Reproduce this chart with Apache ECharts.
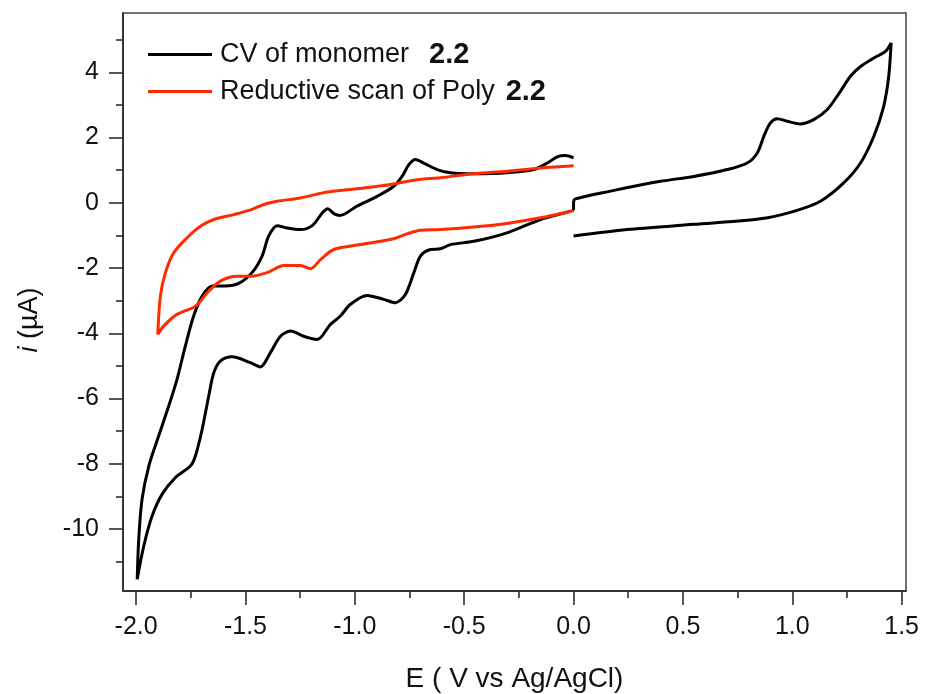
<!DOCTYPE html>
<html>
<head>
<meta charset="utf-8">
<script src="https://cdn.jsdelivr.net/npm/echarts@6/dist/echarts.min.js"></script>
<style>
  html, body { margin: 0; background: #fff; }
  #cv_chart { width: 926px; height: 694px; }
</style>
</head>
<body>
<!-- CV 曲线：单体 + 聚合物还原扫描 -->
<div id="cv_chart"></div>
<script>
// 单体 CV（黑线），按扫描顺序：0 → 1.45 → 0 → -2.0 → 0
var cvE = [0.0, 0.245, 0.55, 0.855, 1.007, 1.129, 1.235, 1.312, 1.373, 1.418, 1.441, 1.452,
  1.426, 1.373, 1.312, 1.266, 1.22, 1.16, 1.098, 1.037, 0.977, 0.931, 0.9, 0.87, 0.84, 0.794, 0.702, 0.55, 0.397, 0.169, 0.009, 0.0, 0.0,
  -0.045, -0.151, -0.304, -0.456, -0.563, -0.609, -0.654, -0.7, -0.73, -0.769, -0.814, -0.868, -0.944, -1.02, -1.066, -1.112, -1.172, -1.234, -1.294, -1.34, -1.386, -1.432, -1.477, -1.561, -1.615, -1.645, -1.668, -1.698, -1.729, -1.752, -1.82, -1.881, -1.927, -1.965, -1.995,
  -1.988, -1.973, -1.942, -1.897, -1.851, -1.813, -1.775, -1.737, -1.698, -1.652, -1.592, -1.531, -1.47, -1.424, -1.394, -1.355, -1.31, -1.249, -1.195, -1.149, -1.124, -1.096, -1.069, -0.99, -0.898, -0.822, -0.784, -0.753, -0.723, -0.685, -0.624, -0.563, -0.456, -0.304, -0.182, -0.12, -0.075, -0.037, 0.0]
var cvI = [-1.02, -0.82, -0.66, -0.49, -0.26, 0.05, 0.61, 1.22, 2.04, 2.96, 3.88, 4.9,
  4.64, 4.44, 4.18, 3.88, 3.42, 2.86, 2.55, 2.42, 2.5, 2.58, 2.45, 2.04, 1.53, 1.22, 1.02, 0.81, 0.66, 0.36, 0.12, 0.0, -0.2,
  -0.31, -0.51, -0.92, -1.18, -1.28, -1.41, -1.43, -1.63, -2.14, -2.81, -3.06, -2.96, -2.84, -3.11, -3.47, -3.73, -4.19, -4.09, -3.93, -4.09, -4.59, -5.03, -4.9, -4.72, -4.85, -5.21, -5.92, -6.94, -7.76, -8.07, -8.42, -8.93, -9.6, -10.52, -11.54,
  -10.31, -9.09, -8.07, -7.15, -6.23, -5.41, -4.39, -3.47, -2.86, -2.55, -2.55, -2.47, -2.14, -1.63, -1.02, -0.7, -0.77, -0.82, -0.7, -0.31, -0.18, -0.33, -0.39, -0.1, 0.2, 0.51, 0.81, 1.17, 1.33, 1.22, 1.02, 0.92, 0.89, 0.92, 1.02, 1.22, 1.41, 1.45, 1.38]

// 聚合物还原扫描（红线）
var polyE = [0.0, -0.151, -0.304, -0.456, -0.609, -0.715, -0.868, -1.02, -1.127, -1.249, -1.355, -1.417, -1.47, -1.554, -1.645, -1.706, -1.767, -1.828, -1.866, -1.889, -1.901,
  -1.874, -1.813, -1.729, -1.675, -1.615, -1.538, -1.477, -1.401, -1.325, -1.249, -1.203, -1.157, -1.096, -0.974, -0.822, -0.761, -0.7, -0.609, -0.456, -0.304, -0.151, -0.029, 0.0]
var polyI = [1.14, 1.07, 0.97, 0.89, 0.77, 0.71, 0.53, 0.41, 0.33, 0.15, 0.05, -0.05, -0.2, -0.36, -0.51, -0.72, -1.07, -1.53, -2.14, -2.86, -4.03,
  -3.78, -3.42, -3.17, -2.76, -2.4, -2.25, -2.25, -2.14, -1.92, -1.92, -2.02, -1.74, -1.43, -1.28, -1.1, -0.95, -0.84, -0.82, -0.74, -0.63, -0.46, -0.29, -0.24]

// 刻度
var xMajorTicks = [-2.0, -1.5, -1.0, -0.5, 0.0, 0.5, 1.0, 1.5]
var xMinorTicks = [-1.75, -1.25, -0.75, -0.25, 0.25, 0.75, 1.25]
var yMajorTicks = [-10, -8, -6, -4, -2, 0, 2, 4]
var yMinorTicks = [-11, -9, -7, -5, -3, -1, 1, 3, 5]

var seriesNames = ['CV of monomer', 'Reductive scan of Poly']

function pairs (xs, ys) {
  return xs.map(function (x, i) { return [x, ys[i]] })
}

var font = 'Liberation Sans, Arial, Helvetica, sans-serif'
var axisColor = '#222'

var myChart = echarts.init(document.getElementById('cv_chart'))
var option = {
  animation: false,
  backgroundColor: '#fff',
  grid: {
    left: 123,
    right: 20,
    top: 13,
    bottom: 103,
    outerBoundsMode: 'none',
    show: true,
    borderColor: '#444',
    borderWidth: 1.5
  },
  legend: {
    orient: 'vertical',
    left: 143,
    top: 35,
    icon: 'rect',
    itemWidth: 64,
    itemHeight: 3,
    itemGap: 8,
    data: seriesNames,
    formatter: function (name) {
      // 2.2 加粗
      return name === seriesNames[0] ? name + '{b1|2.2}' : name + '{b2|2.2}'
    },
    textStyle: {
      fontFamily: font,
      fontSize: 27,
      color: '#111',
      padding: [0, 0, 0, 3],
      rich: {
        b1: { fontFamily: font, fontSize: 29, fontWeight: 'bold', color: '#111', padding: [0, 0, 0, 20] },
        b2: { fontFamily: font, fontSize: 29, fontWeight: 'bold', color: '#111', padding: [0, 0, 0, 11] }
      }
    }
  },
  xAxis: [
    {
      type: 'value',
      min: -2.06,
      max: 1.52,
      name: 'E ( V vs Ag/AgCl)',
      nameLocation: 'middle',
      nameGap: 74,
      nameTextStyle: { fontFamily: font, fontSize: 28, color: '#111' },
      axisLine: { show: true, onZero: false, lineStyle: { color: axisColor, width: 1.5 } },
      axisTick: { show: true, customValues: xMajorTicks, length: 14, lineStyle: { color: axisColor, width: 1.5 } },
      axisLabel: {
        customValues: xMajorTicks,
        formatter: function (v) { return v.toFixed(1) },
        fontFamily: font,
        fontSize: 25,
        color: '#111',
        margin: 24
      },
      splitLine: { show: false }
    },
    {
      // 次刻度
      type: 'value',
      min: -2.06,
      max: 1.52,
      position: 'bottom',
      axisLine: { show: false, onZero: false },
      axisTick: { show: true, customValues: xMinorTicks, length: 7, lineStyle: { color: axisColor, width: 1.5 } },
      axisLabel: { show: false },
      splitLine: { show: false }
    }
  ],
  yAxis: [
    {
      type: 'value',
      min: -11.9,
      max: 5.82,
      name: '{it|i} (µA)',
      nameLocation: 'middle',
      nameGap: 80,
      nameRotate: 90,
      nameTextStyle: {
        fontFamily: font,
        fontSize: 27,
        color: '#111',
        padding: [0, 36, 0, 0],
        rich: { it: { fontFamily: font, fontSize: 27, fontStyle: 'italic', color: '#111' } }
      },
      axisLine: { show: true, onZero: false, lineStyle: { color: axisColor, width: 1.5 } },
      axisTick: { show: true, customValues: yMajorTicks, length: 14, lineStyle: { color: axisColor, width: 1.5 } },
      axisLabel: {
        customValues: yMajorTicks,
        fontFamily: font,
        fontSize: 25,
        color: '#111',
        margin: 24
      },
      splitLine: { show: false }
    },
    {
      type: 'value',
      min: -11.9,
      max: 5.82,
      position: 'left',
      axisLine: { show: false, onZero: false },
      axisTick: { show: true, customValues: yMinorTicks, length: 7, lineStyle: { color: axisColor, width: 1.5 } },
      axisLabel: { show: false },
      splitLine: { show: false }
    }
  ],
  series: [
    {
      name: seriesNames[0],
      type: 'line',
      data: pairs(cvE, cvI),
      xAxisIndex: 0,
      yAxisIndex: 0,
      symbol: 'none',
      smooth: 0.3,
      color: '#000',
      lineStyle: { color: '#000', width: 3 }
    },
    {
      name: seriesNames[1],
      type: 'line',
      data: pairs(polyE, polyI),
      xAxisIndex: 0,
      yAxisIndex: 0,
      symbol: 'none',
      smooth: 0.3,
      color: '#ff2a00',
      lineStyle: { color: '#ff2a00', width: 3 }
    }
  ]
}
myChart.setOption(option)
</script>
</body>
</html>
